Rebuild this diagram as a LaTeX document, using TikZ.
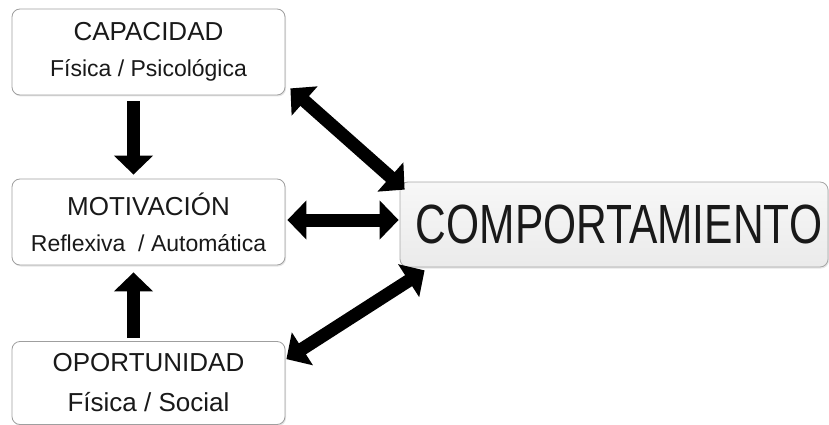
\documentclass[tikz,border=0pt]{standalone}
\usepackage{fontspec}
\usepackage{graphicx}
\setmainfont{Liberation Sans}
\usetikzlibrary{arrows.meta,shadows}
\begin{document}
\begin{tikzpicture}[x=1pt,y=-1pt,
  box/.style={draw=gray!75, line width=0.8pt, rounded corners=8pt, fill=white,
    minimum width=273pt, minimum height=86pt, align=center, inner sep=0pt,
    text=black!90, font=\fontsize{26}{36}\selectfont,
    drop shadow={shadow xshift=1pt, shadow yshift=-1.5pt, fill=gray!50, opacity=0.4}},
  compbox/.style={draw=gray!70, line width=0.8pt, rounded corners=8pt,
    top color=gray!6, bottom color=gray!16, text=black!90,
    minimum width=428pt, minimum height=85pt, inner sep=0pt,
    drop shadow={shadow xshift=1pt, shadow yshift=-1.5pt, fill=gray!50, opacity=0.4}},
  bigarrow/.style={line width=13pt, -{Triangle[length=19pt,width=38pt]}},
  dblarrow/.style={line width=13pt, {Triangle[length=19pt,width=38pt]}-{Triangle[length=19pt,width=38pt]}}
]
\useasboundingbox (0,0) rectangle (829,425);
\node[box] (cap) at (148.5,52) {CAPACIDAD\\ \fontsize{23}{36}\selectfont Física / Psicológica};
\node[box] (mot) at (148.5,222) {MOTIVACIÓN\\ \fontsize{23}{36}\selectfont Reflexiva \ / Automática};
\node[box, minimum height=83pt, font=\fontsize{26}{40}\selectfont] (opp) at (148.5,383) {OPORTUNIDAD\\ Física / Social};
\node[compbox] (comp) at (614,224.5) {\hspace*{10pt}\scalebox{1}[1.3]{\fontsize{42.5}{48}\selectfont COMPORTAMIENTO}};

\draw[bigarrow] ([shift={(-15,6)}]cap.south) -- ([shift={(-15,-4)}]mot.north);
\draw[bigarrow] ([shift={(-15,-3)}]opp.north) -- ([shift={(-15,7)}]mot.south);
\draw[dblarrow] ([shift={(5,-7)}]cap.south east) -- ([shift={(5,8)}]comp.north west);
\draw[dblarrow] ([shift={(2,-2)}]mot.east) -- ([shift={(-1,-4.5)}]comp.west);
\draw[dblarrow] ([shift={(1,18)}]opp.north east) -- ([shift={(25,3)}]comp.south west);
\end{tikzpicture}
\end{document}
